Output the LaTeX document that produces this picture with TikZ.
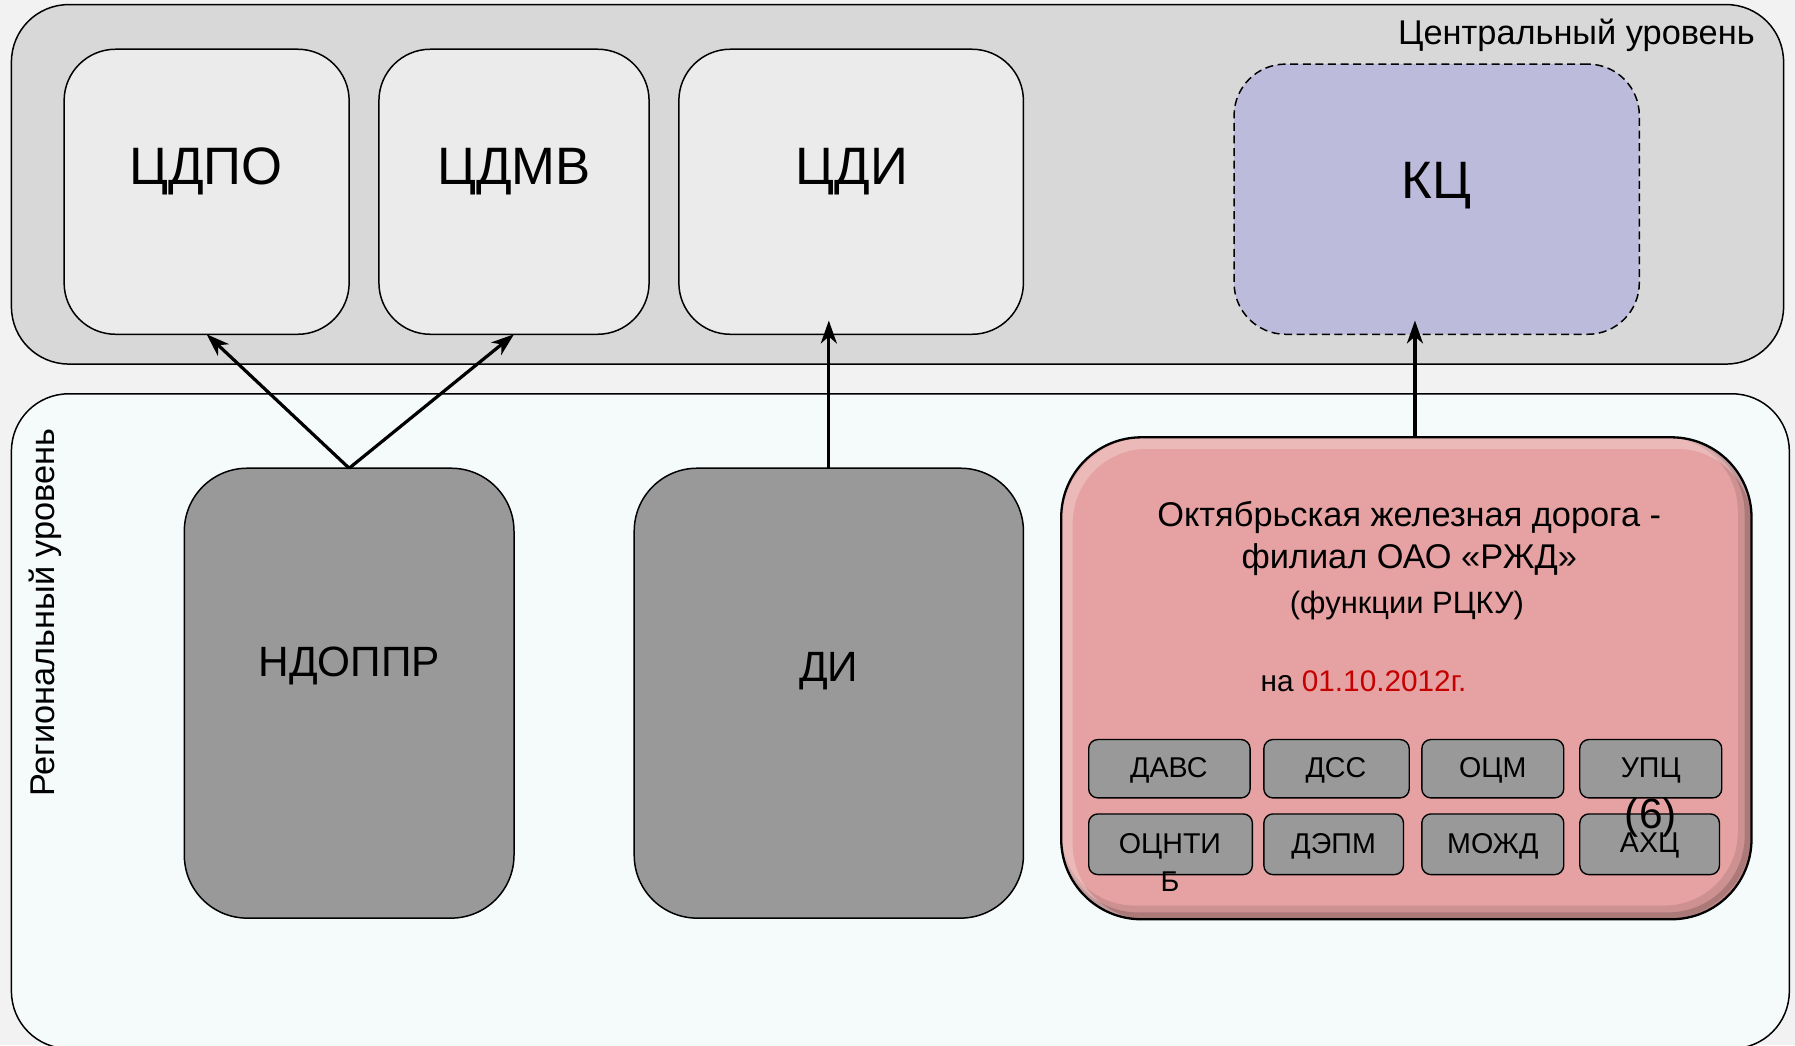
\documentclass[tikz,border=0pt]{standalone}
\usepackage{fontspec}
\setmainfont{Liberation Sans}
\usetikzlibrary{calc,arrows.meta}
\definecolor{bgc}{HTML}{F2F2F2}
\definecolor{topc}{HTML}{D8D8D8}
\definecolor{cboxc}{HTML}{EBEBEB}
\definecolor{botc}{HTML}{F5FAFA}
\definecolor{kcc}{HTML}{BDBBDB}
\definecolor{darkc}{HTML}{999999}
\definecolor{pinkc}{HTML}{E6A2A2}
\definecolor{redc}{HTML}{C40000}
\newcommand{\fs}[1]{\fontsize{#1}{#1}\selectfont}
\begin{document}
\begin{tikzpicture}[x=1pt,y=-1pt,
  box/.style={draw=black, line width=1.3pt, rounded corners=#1, inner sep=0pt, outer sep=0pt},
  bigbox/.style={box=45pt, fill=cboxc, minimum height=249pt},
  graybox/.style={box=55pt, fill=darkc, minimum height=393pt},
  smallbox/.style={box=8pt, fill=darkc, line width=1.2pt},
  lbl/.style={inner sep=0pt, text=black},
  arr/.style={line width=2.8pt, -{Stealth[length=20pt,width=14pt,inset=6pt]}}]
\useasboundingbox (0,0) rectangle (1568,913);
\fill[bgc] (0,0) rectangle (1568,913);
% level frames
\node[box=50pt, fill=topc, minimum width=1548pt, minimum height=314pt] (central) at (784,161) {};
\node[box=50pt, fill=botc, minimum width=1553pt, minimum height=572pt] (regional) at (786.5,630) {};
\node[lbl, anchor=east] (centraltxt) at (1533,31) {\fs{30}Центральный уровень};
\node[lbl, rotate=90] (regtxt) at (40,535) {\fs{30}Региональный уровень};
% central boxes
\node[bigbox, minimum width=249pt] (cdpo) at (180.5,167.5) {};
\node[bigbox, minimum width=236pt] (cdmv) at (449,167.5) {};
\node[bigbox, minimum width=301pt] (cdi) at (743.5,167.5) {};
\node[box=45pt, fill=kcc, dashed, dash pattern=on 7pt off 4pt, minimum width=354pt, minimum height=236pt] (kc) at (1255,174) {};
\node[lbl] (cdpotxt) at (180,150) {\fs{46}ЦДПО};
\node[lbl] (cdmvtxt) at (449,150) {\fs{46}ЦДМВ};
\node[lbl] (cditxt) at (744,150) {\fs{46}ЦДИ};
\node[lbl] (kctxt) at (1255,162) {\fs{46}КЦ};
% regional boxes
\node[graybox, minimum width=288pt] (ndoppr) at (305,605.5) {};
\node[graybox, minimum width=340pt] (di) at (724,605.5) {};
\node[lbl] (ndopprtxt) at (305,582) {\fs{37}НДОППР};
\node[lbl] (ditxt) at (724,586) {\fs{37}ДИ};
% pink box
\node[box=70pt, fill=pinkc, draw=none, minimum width=603pt, minimum height=421pt] (rw) at (1228.5,592.5) {};
\begin{scope}
  \clip[rounded corners=70pt] (rw.south west) rectangle (rw.north east);
  \draw[line width=12pt, black, opacity=0.10, rounded corners=70pt] ($(rw.south west)+(-6,-6)$) rectangle ($(rw.north east)+(-6,-6)$);
  \draw[line width=6pt, black, opacity=0.16, rounded corners=70pt] ($(rw.south west)+(-3,-3)$) rectangle ($(rw.north east)+(-3,-3)$);
  \draw[line width=10pt, white, opacity=0.25, rounded corners=70pt] ($(rw.south west)+(5,5)$) rectangle ($(rw.north east)+(5,5)$);
\end{scope}
\draw[line width=2pt, rounded corners=70pt] (rw.south west) rectangle (rw.north east);
\node[lbl] (rw1) at (1231,452) {\fs{30}Октябрьская железная дорога -};
\node[lbl] (rw2) at (1231,489) {\fs{30}филиал ОАО «РЖД»};
\node[lbl] (rw3) at (1229,529) {\fs{27}(функции РЦКУ)};
\node[lbl] (rw4) at (1191,595) {\fs{26}на \textcolor{redc}{01.10.2012г.}};
% small boxes
\node[smallbox, minimum width=141pt, minimum height=51pt] (davs) at (1021.5,671.5) {};
\node[smallbox, minimum width=127pt, minimum height=51pt] (dss) at (1167.5,671.5) {};
\node[smallbox, minimum width=124pt, minimum height=51pt] (ocm) at (1304,671.5) {};
\node[smallbox, minimum width=124pt, minimum height=51pt] (upc) at (1442,671.5) {};
\node[smallbox, minimum width=143pt, minimum height=53pt] (ocnti) at (1022.5,737.5) {};
\node[smallbox, minimum width=122pt, minimum height=53pt] (depm) at (1165,737.5) {};
\node[smallbox, minimum width=124pt, minimum height=53pt] (mozhd) at (1304,737.5) {};
\node[smallbox, minimum width=122pt, minimum height=53pt] (ahc) at (1441,737.5) {};
\node[lbl] (davstxt) at (1021,673) {\fs{25}ДАВС};
\node[lbl] (dsstxt) at (1167,673) {\fs{25}ДСС};
\node[lbl] (ocmtxt) at (1304,673) {\fs{25}ОЦМ};
\node[lbl] (upctxt) at (1442,673) {\fs{25}УПЦ};
\node[lbl] (ocntitxt) at (1022,739) {\fs{25}ОЦНТИ};
\node[lbl] (ocntibtxt) at (1022,770) {\fs{25}Б};
\node[lbl] (depmtxt) at (1165,739) {\fs{25}ДЭПМ};
\node[lbl] (mozhdtxt) at (1304,739) {\fs{25}МОЖД};
\node[lbl] (ahctxt) at (1441,739) {\fs{25}АХЦ};
\node[lbl] (sixtxt) at (1442,714) {\fs{37}(6)};
% connectors
\coordinate (rwtop) at ($(rw.north)+(7.5,0)$);
\draw[arr] (ndoppr.north) -- (cdpo.south);
\draw[arr] (ndoppr.north) -- (cdmv.south);
\draw[arr] (di.north) -- ($(di.north |- cdi.south)+(0,-12)$);
\draw[arr] (rwtop) -- ($(rwtop |- kc.south)+(0,-12)$);
\end{tikzpicture}
\end{document}
